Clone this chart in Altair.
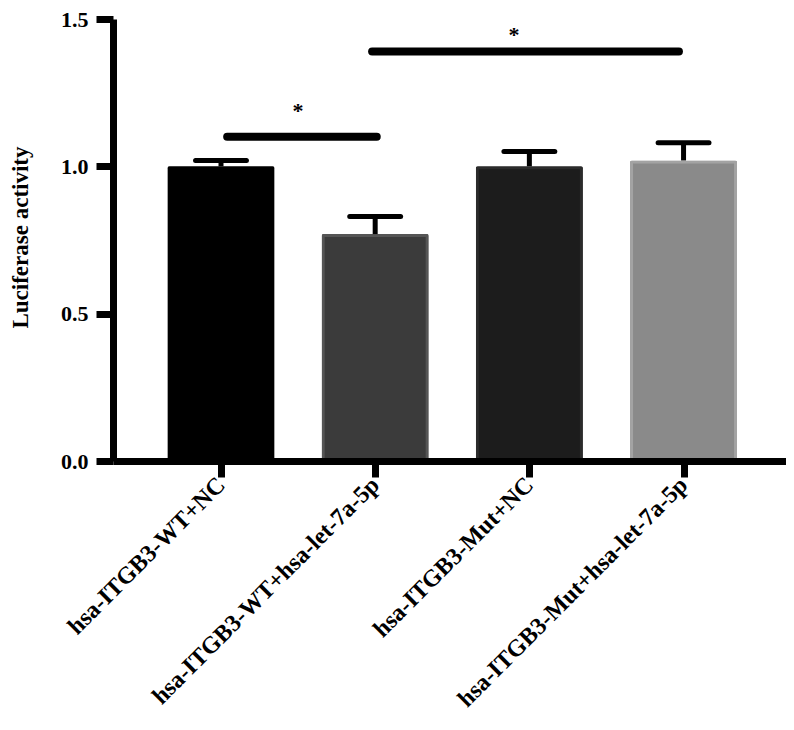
import altair as alt
import pandas as pd

categories = ["hsa-ITGB3-WT+NC", "hsa-ITGB3-WT+hsa-let-7a-5p",
              "hsa-ITGB3-Mut+NC", "hsa-ITGB3-Mut+hsa-let-7a-5p"]
positions = [1, 2, 3, 4]
means = [1.0, 0.77, 1.0, 1.02]
errors = [0.02, 0.06, 0.05, 0.06]
fills = ["#000000", "#3b3b3b", "#1c1c1c", "#8a8a8a"]
strokes = ["#000000", "#555555", "#2b2b2b", "#a3a3a3"]

sig_start = [1.04, 1.98]
sig_end = [2.01, 3.97]
sig_y = [1.10, 1.39]
star_x = [1.50, 2.90]
star_y = [1.187, 1.447]
star_text = ["*", "*"]

bars = pd.DataFrame({"pos": positions, "cat": categories, "mean": means,
                     "err": errors, "fill": fills, "stroke": strokes})
bars["upper"] = bars["mean"] + bars["err"]
sig = pd.DataFrame({"x": sig_start, "x2": sig_end, "y": sig_y})
stars = pd.DataFrame({"x": star_x, "y": star_y, "t": star_text})

FONT = "Liberation Serif"
label_expr = ("datum.value == 1 ? '%s' : datum.value == 2 ? '%s' : "
              "datum.value == 3 ? '%s' : '%s'") % tuple(categories)

xscale = alt.Scale(domain=[0.332, 4.632], nice=False, zero=False)
yscale = alt.Scale(domain=[0, 1.5], nice=False)

xaxis = alt.Axis(values=positions, labelExpr=label_expr, title=None,
                 labelAngle=315, labelAlign="right", labelBaseline="middle",
                 labelFont=FONT, labelFontWeight="bold", labelFontSize=24,
                 labelColor="black", labelPadding=4, labelOverlap=False,
                 labelLimit=0,
                 domainColor="black", domainWidth=7, tickColor="black",
                 tickWidth=7, tickSize=16, grid=False, zindex=1)
yaxis = alt.Axis(values=[0, 0.5, 1.0, 1.5], format=".1f",
                 title="Luciferase activity", titleFont=FONT,
                 titleFontWeight="bold", titleFontSize=23, titleColor="black",
                 titleX=-93, titleY=218, titleAlign="center",
                 titleBaseline="middle", titleAngle=270,
                 labelFont=FONT, labelFontWeight="bold", labelFontSize=22,
                 labelColor="black", labelPadding=8,
                 domainColor="black", domainWidth=7, tickColor="black",
                 tickWidth=7, tickSize=17, grid=False, zindex=1)

base = alt.Chart(bars)

bar_layer = base.mark_bar(size=107, strokeWidth=6, cornerRadius=2).encode(
    x=alt.X("pos:Q", scale=xscale, axis=xaxis),
    y=alt.Y("mean:Q", scale=yscale, axis=yaxis),
    fill=alt.Fill("fill:N", scale=None),
    stroke=alt.Stroke("stroke:N", scale=None),
)

stem = base.mark_rule(strokeWidth=5, color="black").encode(
    x="pos:Q", y="mean:Q", y2="upper:Q")

cap = base.transform_calculate(
    lo="datum.pos - 0.165", hi="datum.pos + 0.165"
).mark_rule(strokeWidth=5, color="black", strokeCap="round").encode(
    x="lo:Q", x2="hi:Q", y="upper:Q")

sig_layer = alt.Chart(sig).mark_rule(strokeWidth=8, color="black",
                                     strokeCap="round").encode(
    x="x:Q", x2="x2:Q", y="y:Q")

star_layer = alt.Chart(stars).mark_text(font=FONT, fontWeight="bold",
                                        fontSize=22, color="black",
                                        baseline="middle").encode(
    x="x:Q", y="y:Q", text="t:N")

chart = alt.layer(bar_layer, stem, cap, sig_layer, star_layer).properties(
    width=673, height=442,
    autosize=alt.AutoSizeParams(type="none"),
    padding={"left": 105, "top": 11, "right": 0, "bottom": 255},
).configure(background="white").configure_view(stroke=None)

chart.save("out.html", embed_options={"renderer": "svg", "actions": False})
